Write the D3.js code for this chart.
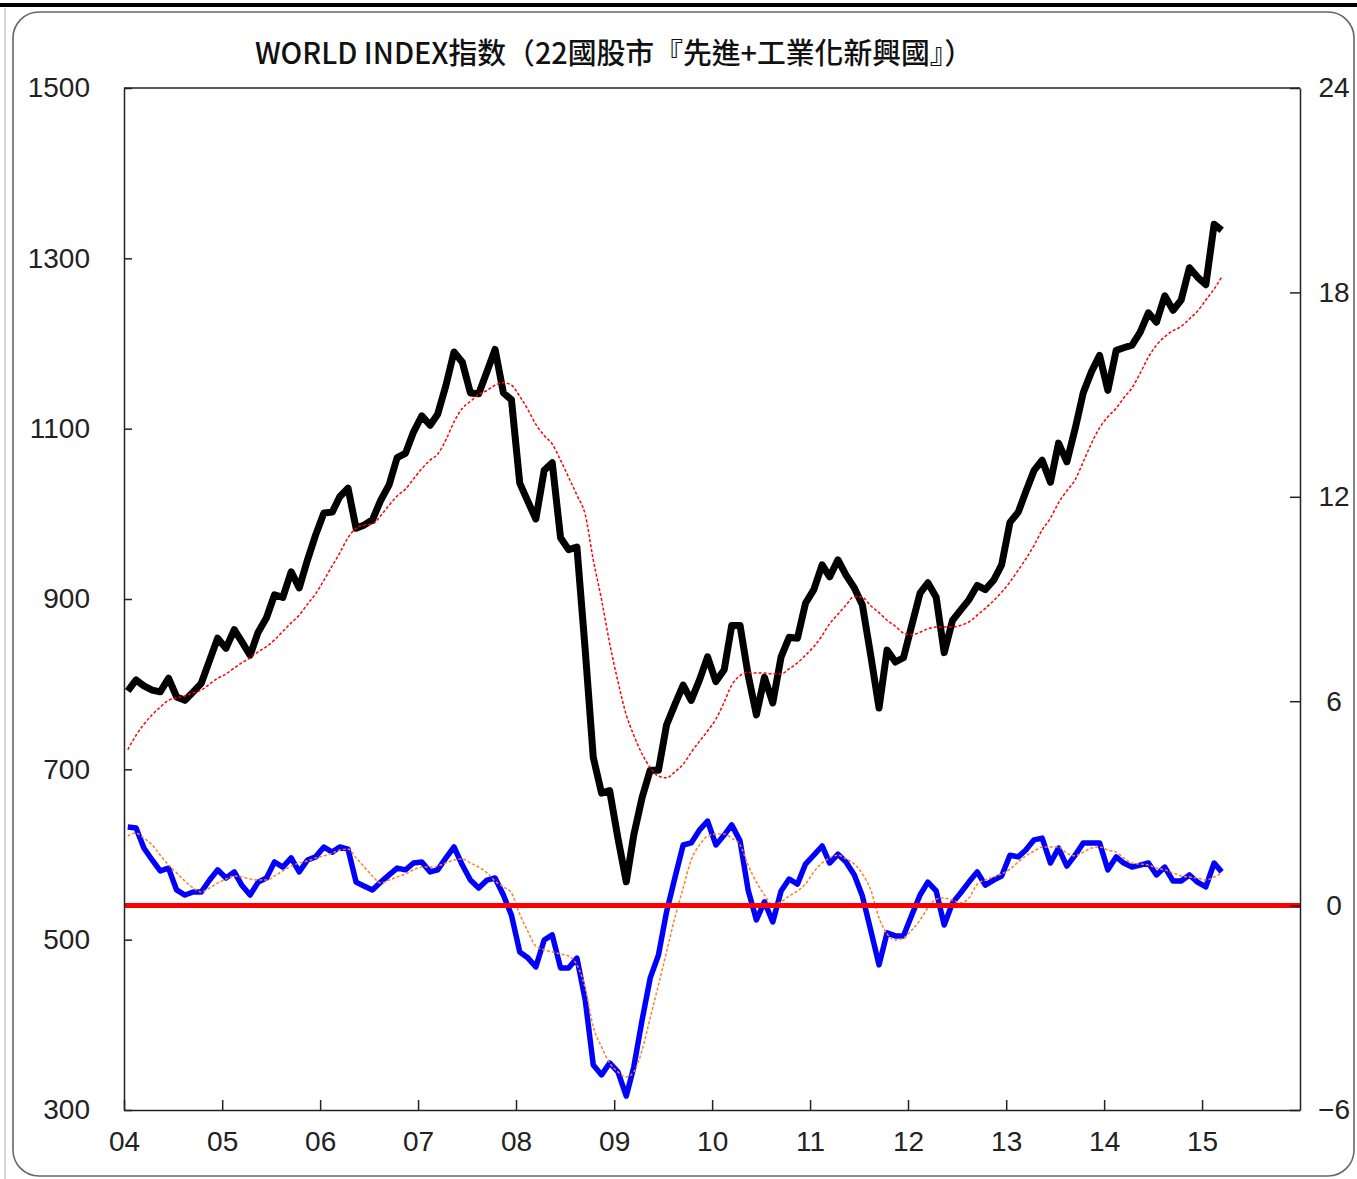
<!DOCTYPE html>
<html>
<head>
<meta charset="utf-8">
<script src="https://cdn.jsdelivr.net/npm/d3@7"></script>
<style>
  body { margin: 0; background: #ffffff; }
  .tick text { font-family: "Liberation Sans", Arial, sans-serif; font-size: 28px; fill: #222; }
</style>
</head>
<body>
<div id="chart"></div>
<script>
// monthly points, Jan 2004 - Mar 2015
var startMonth = new Date(2004, 0, 1);
var endMonth = new Date(2015, 3, 1);

// WORLD INDEX (left axis)
var indexValues = [
  792, 805, 798, 793, 791, 807, 785, 781, 791, 801, 828, 854,
  842, 864, 850, 834, 861, 878, 905, 902, 932, 913, 946, 975,
  1001, 1002, 1020, 1030, 983, 987, 993, 1016, 1034, 1066, 1071, 1096,
  1115, 1104, 1117, 1151, 1190, 1178, 1142, 1141, 1167, 1193, 1142, 1134,
  1036, 1014, 994, 1051, 1060, 972, 958, 961, 840, 714, 672, 675,
  619, 568, 623, 667, 699, 699, 752, 776, 799, 781, 805, 832,
  803, 817, 869, 869, 811, 764, 808, 778, 832, 855, 854, 895,
  911, 940, 926, 946, 928, 913, 893, 834, 772, 840, 826, 831,
  869, 907, 919, 902, 837, 875, 887, 899, 916, 911, 922, 940,
  990, 1002, 1026, 1051, 1063, 1037, 1083, 1061, 1100, 1142, 1167, 1186,
  1145, 1192, 1195, 1198, 1213, 1236, 1225, 1256, 1239, 1251, 1289, 1278,
  1269, 1340, 1333
];

// moving average of the index (red dotted)
var indexAvg = [
  723, 740, 753, 764, 773, 781, 784, 786, 790, 793, 800, 807,
  812, 819, 825, 831, 838, 844, 852, 862, 872, 881, 894, 906,
  922, 939, 954, 972, 983, 987, 988, 998, 1010, 1021, 1029, 1041,
  1053, 1063, 1070, 1087, 1108, 1124, 1132, 1140, 1145, 1151, 1154, 1151,
  1138, 1122, 1105, 1092, 1082, 1063, 1043, 1022, 999, 946, 899, 848,
  803, 764, 740, 718, 702, 692, 690, 697, 706, 720, 733, 745,
  759, 779, 799, 810, 814, 813, 813, 812, 812, 818, 825, 834,
  844, 857, 871, 882, 893, 903, 902, 892, 884, 875, 868, 860,
  858, 861, 865, 867, 867, 867, 869, 873, 881, 889, 898, 908,
  920, 934, 947, 963, 981, 995, 1013, 1027, 1040, 1061, 1083, 1101,
  1114, 1124, 1136, 1148, 1165, 1184, 1198, 1208, 1215, 1220, 1229, 1238,
  1251, 1264, 1278
];

// blue line (right axis)
var momentum = [
  2.31, 2.28, 1.69, 1.34, 1.02, 1.10, 0.46, 0.31, 0.40, 0.40, 0.75, 1.05,
  0.81, 0.99, 0.60, 0.31, 0.69, 0.81, 1.28, 1.13, 1.40, 0.99, 1.34, 1.43,
  1.72, 1.57, 1.72, 1.66, 0.69, 0.57, 0.46, 0.69, 0.90, 1.10, 1.05, 1.25,
  1.28, 0.99, 1.05, 1.40, 1.72, 1.19, 0.75, 0.52, 0.75, 0.81, 0.31, -0.28,
  -1.36, -1.54, -1.80, -1.01, -0.86, -1.83, -1.83, -1.54, -2.77, -4.68, -4.97, -4.62,
  -4.88, -5.59, -4.74, -3.36, -2.13, -1.45, -0.19, 0.81, 1.78, 1.84, 2.22, 2.48,
  1.78, 2.07, 2.37, 1.90, 0.46, -0.42, 0.11, -0.48, 0.43, 0.78, 0.63, 1.22,
  1.48, 1.75, 1.25, 1.51, 1.28, 0.90, 0.28, -0.72, -1.74, -0.80, -0.89, -0.89,
  -0.28, 0.31, 0.69, 0.43, -0.57, 0.08, 0.37, 0.69, 0.99, 0.60, 0.75, 0.87,
  1.48, 1.43, 1.63, 1.93, 1.98, 1.25, 1.69, 1.16, 1.48, 1.84, 1.84, 1.84,
  1.05, 1.43, 1.25, 1.13, 1.19, 1.25, 0.90, 1.13, 0.72, 0.72, 0.90, 0.69,
  0.55, 1.25, 0.99
];

// moving average of the blue line (orange dotted)
var momentumAvg = [
  2.04, 2.13, 1.98, 1.78, 1.48, 1.19, 0.96, 0.72, 0.52, 0.40, 0.52, 0.66,
  0.78, 0.87, 0.84, 0.78, 0.75, 0.75, 0.87, 1.02, 1.16, 1.25, 1.31, 1.40,
  1.46, 1.54, 1.63, 1.66, 1.40, 1.13, 0.87, 0.66, 0.75, 0.84, 0.93, 1.05,
  1.13, 1.13, 1.16, 1.25, 1.34, 1.37, 1.25, 1.13, 0.96, 0.72, 0.55, 0.37,
  -0.25, -0.77, -1.19, -1.30, -1.36, -1.42, -1.48, -1.74, -2.42, -3.56, -4.15, -4.62,
  -4.88, -5.03, -4.88, -4.24, -3.30, -2.33, -1.36, -0.36, 0.52, 1.34, 1.78, 2.04,
  2.10, 2.10, 1.98, 1.78, 1.19, 0.69, 0.31, 0.02, 0.11, 0.28, 0.43, 0.63,
  0.99, 1.25, 1.40, 1.48, 1.37, 1.22, 0.93, 0.46, -0.36, -0.83, -1.01, -0.95,
  -0.72, -0.42, -0.07, 0.19, 0.22, 0.16, 0.08, 0.22, 0.63, 0.75, 0.84, 0.93,
  1.07, 1.28, 1.46, 1.60, 1.72, 1.72, 1.72, 1.54, 1.46, 1.57, 1.69, 1.72,
  1.63, 1.57, 1.40, 1.25, 1.22, 1.19, 1.10, 1.05, 0.96, 0.87, 0.84, 0.81,
  0.75, 0.84, 0.96
];

var leftTicks = [300, 500, 700, 900, 1100, 1300, 1500];
var rightTicks = [-6, 0, 6, 12, 18, 24];
var titleText = "WORLD INDEX指数（22國股市『先進+工業化新興國』）";

var width = 1357, height = 1179;
var margin = { top: 88, right: 57, bottom: 69, left: 124 };

var svg = d3.select("#chart").append("svg")
  .attr("width", width)
  .attr("height", height);

// frame decorations
svg.append("rect").attr("x", 0).attr("y", 3).attr("width", width).attr("height", 4).attr("fill", "#000");
svg.append("line").attr("x1", 5).attr("x2", 5).attr("y1", 8).attr("y2", height)
  .attr("stroke", "#c8c8c8").attr("stroke-width", 1.5);
svg.append("rect")
  .attr("x", 13).attr("y", 12)
  .attr("width", 1341).attr("height", 1164)
  .attr("rx", 26).attr("ry", 26)
  .attr("fill", "none").attr("stroke", "#666").attr("stroke-width", 1.6);

// title
svg.append("text")
  .attr("x", 255).attr("y", 64)
  .attr("textLength", 718)
  .attr("lengthAdjust", "spacingAndGlyphs")
  .style("font-family", "'Noto Sans CJK TC', 'Noto Sans CJK JP', sans-serif")
  .style("font-size", "29px")
  .style("font-weight", 500)
  .attr("fill", "#111")
  .text(titleText);

var months = d3.timeMonth.range(startMonth, endMonth);
// points sit in the middle of their month
var dates = months.map(function (m) { return d3.timeDay.offset(m, 14); });

var x = d3.scaleTime()
  .domain([new Date(2004, 0, 1), new Date(2016, 0, 1)])
  .range([margin.left, width - margin.right]);
var yL = d3.scaleLinear().domain([300, 1500]).range([height - margin.bottom, margin.top]);
var yR = d3.scaleLinear().domain([-6, 24]).range([height - margin.bottom, margin.top]);

function lineOn(scale) {
  return d3.line()
    .x(function (d, i) { return x(dates[i]); })
    .y(function (d) { return scale(d); });
}

var plot = svg.append("g");

// blue series and its average
plot.append("path").datum(momentum)
  .attr("d", lineOn(yR))
  .attr("fill", "none").attr("stroke", "#0000ff").attr("stroke-width", 5.5)
  .attr("stroke-linejoin", "round");
plot.append("path").datum(momentumAvg)
  .attr("d", lineOn(yR).curve(d3.curveMonotoneX))
  .attr("fill", "none").attr("stroke", "#ff7f27").attr("stroke-width", 1.5)
  .attr("stroke-dasharray", "3,2");

// index and its average
plot.append("path").datum(indexValues)
  .attr("d", lineOn(yL))
  .attr("fill", "none").attr("stroke", "#000").attr("stroke-width", 7)
  .attr("stroke-linejoin", "round");
plot.append("path").datum(indexAvg)
  .attr("d", lineOn(yL).curve(d3.curveMonotoneX))
  .attr("fill", "none").attr("stroke", "#ff0000").attr("stroke-width", 1.5)
  .attr("stroke-dasharray", "3,2");

// zero line of the right axis
plot.append("line")
  .attr("x1", x.range()[0]).attr("x2", x.range()[1])
  .attr("y1", yR(0)).attr("y2", yR(0))
  .attr("stroke", "#ff0000").attr("stroke-width", 5);

// top border
svg.append("line")
  .attr("x1", x.range()[0]).attr("x2", x.range()[1])
  .attr("y1", margin.top).attr("y2", margin.top)
  .attr("stroke", "#222").attr("stroke-width", 1.5);

var gx = svg.append("g")
  .attr("transform", "translate(0," + (height - margin.bottom) + ")")
  .call(d3.axisBottom(x)
    .ticks(d3.timeYear.every(1))
    .tickFormat(d3.timeFormat("%y"))
    .tickSizeInner(-10).tickSizeOuter(0).tickPadding(21));
gx.selectAll(".tick").filter(function (d) { return d.getFullYear() > 2015; }).remove();

var gl = svg.append("g")
  .attr("transform", "translate(" + margin.left + ",0)")
  .call(d3.axisLeft(yL).tickValues(leftTicks)
    .tickFormat(d3.format("d"))
    .tickSizeInner(-8).tickSizeOuter(0).tickPadding(34));

var gr = svg.append("g")
  .attr("transform", "translate(" + (width - margin.right) + ",0)")
  .call(d3.axisRight(yR).tickValues(rightTicks)
    .tickFormat(function (d) { return d < 0 ? "\u2212" + Math.abs(d) : d; })
    .tickSizeInner(-10).tickSizeOuter(0));
gr.selectAll(".tick text").attr("x", 34).attr("text-anchor", "middle");

[gx, gl, gr].forEach(function (g) {
  g.select(".domain").attr("stroke", "#222").attr("stroke-width", 1.5);
  g.selectAll(".tick line").attr("stroke", "#222").attr("stroke-width", 1.5);
});
</script>
</body>
</html>
